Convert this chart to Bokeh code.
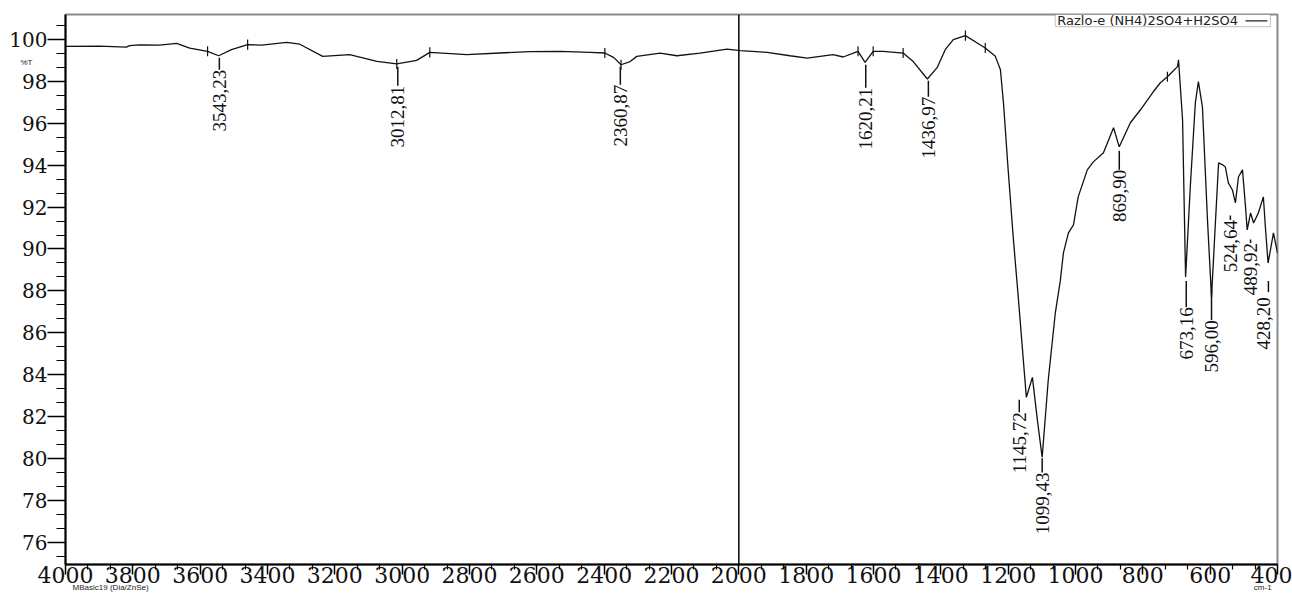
import numpy as np
from bokeh.plotting import figure
from bokeh.models import (Range1d, FixedTicker, Span, Label, BoxAnnotation, ColumnDataSource,
                          LinearAxis)
from bokeh.embed import file_html
from bokeh.resources import INLINE
from bokeh.core.properties import value

# ---------------- data ----------------
wavenumber = [4000, 3899, 3819, 3810, 3780, 3721, 3670, 3631, 3578, 3545, 3507, 3459,
              3417, 3343, 3304, 3236, 3156, 3075, 3016, 2957, 2918, 2808, 2710, 2621,
              2531, 2442, 2398, 2371, 2350, 2323, 2303, 2234, 2184, 2115, 2035, 1996,
              1916, 1848, 1797, 1720, 1690, 1646, 1625, 1601, 1571, 1512, 1482, 1440,
              1411, 1387, 1363, 1327, 1292, 1268, 1238, 1223, 1214, 1200, 1185, 1170,
              1158, 1146, 1128, 1113, 1099, 1081, 1060, 1045, 1036, 1021, 1006, 992,
              965, 947, 917, 887, 870, 837, 807, 769, 748, 727, 697, 694, 682, 673,
              659, 644, 635, 623, 608, 596, 584, 575, 563, 555, 546, 534, 525, 516,
              504, 495, 490, 480, 471, 457, 442, 436, 428, 421, 412, 400]
transmittance = [99.68, 99.69, 99.64, 99.71, 99.75, 99.74, 99.82, 99.59, 99.44, 99.23, 99.52, 99.76,
                 99.74, 99.87, 99.78, 99.20, 99.28, 98.96, 98.84, 99.01, 99.39, 99.28, 99.36, 99.43,
                 99.44, 99.39, 99.36, 99.14, 98.80, 98.95, 99.20, 99.36, 99.23, 99.36, 99.55, 99.47,
                 99.39, 99.23, 99.12, 99.28, 99.17, 99.44, 98.91, 99.44, 99.44, 99.36, 98.95, 98.12,
                 98.66, 99.52, 100.00, 100.19, 99.84, 99.60, 99.20, 98.56, 96.99, 93.78, 90.57, 87.70,
                 85.30, 82.92, 83.87, 81.80, 80.05, 83.73, 86.94, 88.50, 89.80, 90.77, 91.15, 92.49,
                 93.78, 94.16, 94.60, 95.79, 94.88, 96.03, 96.65, 97.51, 97.94, 98.23, 98.71, 99.04, 96.17, 88.66,
                 92.97, 96.99, 97.99, 96.79, 91.39, 87.70, 91.39, 94.11, 94.02, 93.92, 93.16, 92.82, 92.20, 93.44,
                 93.78, 92.01, 90.91, 91.72, 91.24, 91.72, 92.49, 91.05, 89.33, 89.95, 90.77, 89.80]

peak_labels = ["3543,23", "3012,81", "2360,87", "1620,21", "1436,97", "1145,72", "1099,43",
               "869,90", "673,16", "596,00", "524,64", "489,92", "428,20"]
peak_wn = [3543.23, 3012.81, 2360.87, 1620.21, 1436.97, 1145.72, 1099.43,
           869.90, 673.16, 596.00, 524.64, 489.92, 428.20]
marker_wn = [3578, 3459, 3016, 2918, 2398, 2350, 1646, 1601, 1512, 1327, 1268, 727]

x_ticks = list(range(400, 4001, 200))
y_ticks = list(range(76, 101, 2))
series_name = "Razlo-e (NH4)2SO4+H2SO4"
y_unit = "%T"
x_unit = "cm-1"
instrument = "MBasic19 (Dia/ZnSe)"

# ---------------- layout of the annotations ----------------
label_x = [3543, 3013, 2352, 1623, 1437, 1167, 1099, 870, 671, 596, 540, 480, 442]
label_top = [98.56, 97.80, 97.85, 97.70, 97.27, 82.20, 79.33, 93.78, 87.22, 86.60, 91.39, 90.29, 87.70]
dash_x = [3543, 3013, 2352, 1623, 1437, 1167, 1099, 870, 671, 596, 540, 480, 427]
dash_y0 = [99.14, 98.71, 98.71, 98.80, 98.04, 82.80, 80.00, 94.69, 88.47, 88.09, 91.60, 90.45, 88.47]
dash_y1 = [98.56, 97.80, 97.85, 97.70, 97.27, 82.20, 79.33, 93.78, 87.22, 86.60, 91.39, 90.29, 87.94]
y_unit_pos = 98.9
instrument_pos = 3866
x_unit_pos = 444

W, H = 1292, 598
p = figure(width=W, height=H, output_backend="svg", toolbar_location=None,
           x_range=Range1d(4000, 400), y_range=Range1d(74.93, 101.2),
           min_border_left=65, min_border_right=15, min_border_top=14, min_border_bottom=34)
p.background_fill_color = "white"
p.border_fill_color = "white"
p.outline_line_color = "#8a8a8a"
p.outline_line_width = 2
p.xgrid.visible = False
p.ygrid.visible = False

x_minor = [v for v in np.arange(400, 4001, 200 / 3) if abs((v - 400) % 200) > 1 and abs((v - 400) % 200 - 200) > 1]
y_minor = [v for v in np.arange(74 + 2 / 3, 101.5, 2 / 3) if abs(v % 2) > 0.05 and abs(v % 2 - 2) > 0.05]
p.xaxis.ticker = FixedTicker(ticks=x_ticks, minor_ticks=x_minor)
p.yaxis.ticker = FixedTicker(ticks=y_ticks, minor_ticks=y_minor)

for ax in (p.xaxis[0], p.yaxis[0]):
    ax.axis_line_color = "black"
    ax.axis_line_width = 2
    ax.major_tick_line_color = "black"
    ax.minor_tick_line_color = "black"
    ax.major_tick_line_width = 1.5
    ax.minor_tick_line_width = 1.2
    ax.major_tick_in = 0
    ax.minor_tick_in = 0
    ax.major_label_text_font = "DejaVu Serif"
    ax.major_label_text_color = "#111111"

p.xaxis.major_tick_out = 10
p.xaxis.minor_tick_out = 5
p.xaxis.major_label_standoff = -8
p.xaxis.major_label_text_font_size = "22px"
p.yaxis.major_tick_out = 18
p.yaxis.minor_tick_out = 9
p.yaxis.major_label_standoff = 0
p.yaxis.major_label_text_font_size = "20px"


def caption_axis(ticks, overrides, standoff):
    a = LinearAxis(ticker=FixedTicker(ticks=ticks, minor_ticks=[]),
                   major_label_overrides=overrides)
    a.axis_line_color = None
    a.major_tick_line_color = None
    a.minor_tick_line_color = None
    a.major_tick_out = 0
    a.major_tick_in = 0
    a.major_label_standoff = standoff
    a.major_label_text_font = "Liberation Sans"
    a.major_label_text_font_size = "8px"
    a.major_label_text_color = "#222222"
    return a


p.add_layout(caption_axis([instrument_pos, x_unit_pos],
                          {instrument_pos: instrument, x_unit_pos: x_unit}, -3), "below")
p.add_layout(caption_axis([y_unit_pos], {y_unit_pos: y_unit}, -26), "left")

p.add_layout(Span(location=2000, dimension="height", line_color="black", line_width=1.5))

# legend box at the top right (under the trace)
p.add_layout(BoxAnnotation(left=1060, right=421, top=101.2, bottom=100.62, level="underlay",
                           fill_color="white", fill_alpha=1, line_color="#555555", line_width=1.2))

src = ColumnDataSource(dict(x=wavenumber, y=transmittance))
p.line("x", "y", source=src, line_color="#111111", line_width=1.3)

# small peak-limit markers on the trace
my = np.interp(marker_wn, wavenumber[::-1], transmittance[::-1])
p.segment(x0=marker_wn, y0=my - 0.24, x1=marker_wn, y1=my + 0.24, line_color="#111111", line_width=1.2)

# peak labels
p.segment(x0=dash_x, y0=dash_y0, x1=dash_x, y1=dash_y1, line_color="#111111", line_width=1.5)
lsrc = ColumnDataSource(dict(x=label_x, y=label_top, t=peak_labels))
p.text(x="x", y="y", text="t", source=lsrc, angle=np.pi / 2, text_align="right",
       text_baseline="middle", text_font=value("Liberation Serif"), text_font_size="19px",
       text_color="#111111")

p.add_layout(Label(x=1054, y=100.9, text=series_name, text_font="DejaVu Sans",
                   text_font_size="13px", text_baseline="middle", text_color="#222222"))
p.segment(x0=[495], y0=[100.9], x1=[430], y1=[100.9], line_color="#222222", line_width=1.3)

open("out.html", "w").write(file_html(p, INLINE))
